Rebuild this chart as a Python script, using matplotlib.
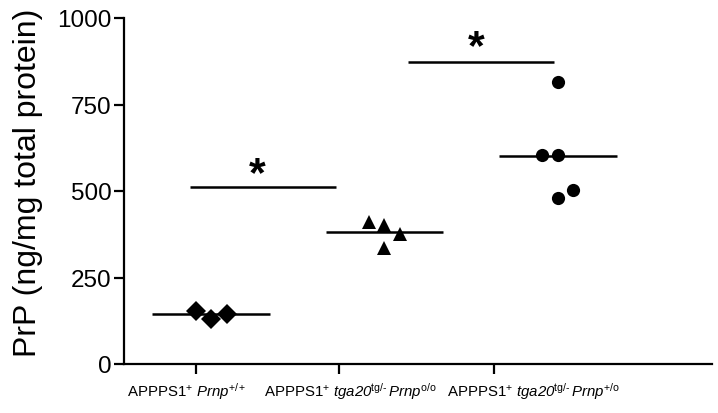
import matplotlib
matplotlib.use("Agg")
import matplotlib.pyplot as plt
from matplotlib.transforms import blended_transform_factory

plt.rcParams['font.family'] = ['Liberation Sans', 'DejaVu Sans']
plt.rcParams['mathtext.fontset'] = 'custom'
plt.rcParams['mathtext.rm'] = 'Liberation Sans'
plt.rcParams['mathtext.it'] = 'Liberation Sans:italic'
plt.rcParams['mathtext.sf'] = 'Liberation Sans:italic'
plt.rcParams['mathtext.bf'] = 'Liberation Sans:bold'

# ---- data ----
group_labels = [
    r"APPPS1$^{+}$ $\mathsf{Prnp}^{+/+}$",
    r"APPPS1$^{+}$ $\mathsf{tga20}^{\text{tg/-}}\,\mathsf{Prnp}^{\mathrm{o/o}}$",
    r"APPPS1$^{+}$ $\mathsf{tga20}^{\text{tg/-}}\,\mathsf{Prnp}^{\mathrm{+/o}}$",
]
g1_values = [153, 130, 144]
g2_values = [410, 402, 376, 335]
g3_values = [605, 605, 503, 480, 815]
group_means = [144, 381, 601]
y_ticks = [0, 250, 500, 750, 1000]
sig_pairs_y = [511, 873]

# ---- layout ----
centers = [1, 2, 3]
g1_dx = [-0.086, 0.0, 0.092]
g2_dx = [-0.092, 0.0, 0.092, 0.0]
g3_dx = [-0.092, 0.0, 0.086, 0.0, 0.0]
tick_pos = [0.9135, 1.738, 2.631]
label_pos = [0.862, 1.801, 2.856]

fig = plt.figure(figsize=(7.18, 4.14), dpi=100)
ax = fig.add_axes([124/718, 49/414, 588/718, 346/414])

ax.plot([centers[0] + d for d in g1_dx], g1_values, 'D', color='black', ms=10, mew=0, zorder=3)
ax.plot([centers[1] + d for d in g2_dx], g2_values, '^', color='black', ms=10, mew=0, zorder=3)
ax.plot([centers[2] + d for d in g3_dx], g3_values, 'o', color='black', ms=9.5, mew=0, zorder=3)

for c, m in zip(centers, group_means):
    ax.plot([c - 0.34, c + 0.34], [m, m], color='black', lw=1.8, solid_capstyle='butt', zorder=2)

# significance bars
ax.plot([0.879, 1.7205], [sig_pairs_y[0]] * 2, color='black', lw=1.8, solid_capstyle='butt')
ax.plot([2.135, 2.977], [sig_pairs_y[1]] * 2, color='black', lw=1.8, solid_capstyle='butt')
ax.text(1.265, 550, '*', fontsize=31, fontweight='bold', ha='center', va='center')
ax.text(2.527, 917, '*', fontsize=31, fontweight='bold', ha='center', va='center')

ax.set_xlim(0.4986, 3.8876)
ax.set_ylim(0, 1000)
ax.set_yticks(y_ticks)
ax.set_yticklabels([str(v) for v in y_ticks], fontsize=17.5)
ax.set_xticks(tick_pos)
ax.set_xticklabels([])
for s in ['top', 'right']:
    ax.spines[s].set_visible(False)
for s in ['left', 'bottom']:
    ax.spines[s].set_linewidth(1.6)
ax.tick_params(axis='both', length=7, width=1.6, pad=2)

trans = blended_transform_factory(ax.transData, ax.transAxes)
for x, lab in zip(label_pos, group_labels):
    ax.text(x, -0.0925, lab, transform=trans, ha='center', va='baseline', fontsize=10.8)

fig.text(28/718, 1 - 183/414, 'PrP (ng/mg total protein)', rotation=90,
         ha='center', va='center', fontsize=23)

fig.savefig('out.png', dpi=100)
